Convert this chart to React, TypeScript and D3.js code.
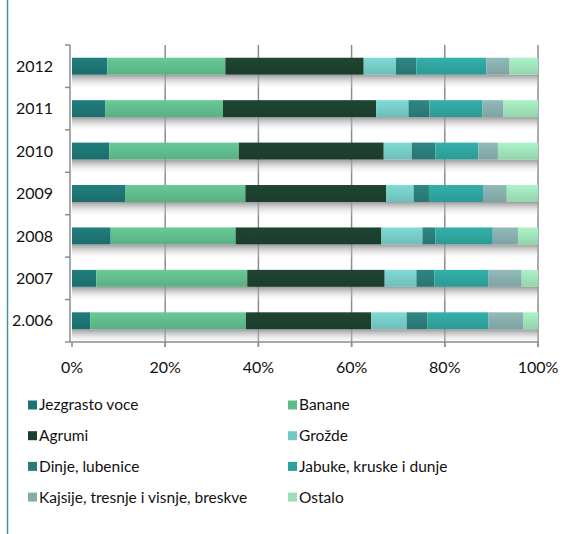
import React, { useEffect, useRef } from "react";
import * as d3 from "d3";

// years, bottom to top as drawn
const years = ["2.006", "2007", "2008", "2009", "2010", "2011", "2012"];

const seriesNames = [
  "Jezgrasto voce",
  "Banane",
  "Agrumi",
  "Grožde",
  "Dinje, lubenice",
  "Jabuke, kruske i dunje",
  "Kajsije, tresnje i visnje, breskve",
  "Ostalo",
];

// shares in %, per year (2006 .. 2012)
const jezgrasto = [3.9, 5.2, 8.3, 11.5, 8.0, 7.1, 7.6];
const banane = [33.4, 32.4, 26.8, 25.7, 27.8, 25.3, 25.3];
const agrumi = [26.9, 29.5, 31.3, 30.2, 31.1, 32.9, 29.7];
const grozde = [7.6, 6.8, 8.8, 5.9, 6.0, 6.9, 6.9];
const dinje = [4.5, 3.9, 2.8, 3.3, 5.1, 4.5, 4.4];
const jabuke = [13.1, 11.6, 12.3, 11.6, 9.2, 11.4, 15.0];
const kajsije = [7.5, 7.1, 5.4, 5.1, 4.2, 4.5, 5.0];
const ostalo = [3.1, 3.5, 4.3, 6.7, 8.6, 7.4, 6.1];

const xTicks = [0, 0.2, 0.4, 0.6, 0.8, 1];

const colors = ["#1d7372", "#5fb98a", "#1d3f2e", "#74c8c3", "#2a7b79", "#2fa19c", "#85abaa", "#9cdfb6"];

export default function App() {
  const ref = useRef<SVGSVGElement>(null);

  useEffect(() => {
    const svg = d3.select(ref.current);
    svg.selectAll("*").remove();

    const width = 570, height = 534;
    const margin = { top: 45, left: 72, right: 32, bottom: 192 };
    const font = "Lato, 'Liberation Sans', Arial, sans-serif";

    const all = [jezgrasto, banane, agrumi, grozde, dinje, jabuke, kajsije, ostalo];
    const table = years.map((y, i) => {
      const row: any = { year: y };
      seriesNames.forEach((s, j) => (row[s] = all[j][i]));
      return row;
    });
    const stacked = d3.stack().keys(seriesNames).offset(d3.stackOffsetExpand)(table);

    const x = d3.scaleLinear().domain([0, 1]).range([margin.left, width - margin.right]);
    const y = d3
      .scaleBand()
      .domain(years.slice().reverse())
      .range([margin.top, height - margin.bottom])
      .paddingInner(0.6)
      .paddingOuter(0.3);
    const step = y.step();

    const defs = svg.append("defs");
    const sh = defs.append("linearGradient").attr("id", "shadow").attr("x1", 0).attr("x2", 0).attr("y1", 0).attr("y2", 1);
    sh.append("stop").attr("offset", "0%").attr("stop-color", "#8a8a8a").attr("stop-opacity", 0.85);
    sh.append("stop").attr("offset", "100%").attr("stop-color", "#fff").attr("stop-opacity", 0);

    colors.forEach((c, i) => {
      const g = defs.append("linearGradient").attr("id", "g" + i).attr("x1", 0).attr("x2", 0).attr("y1", 0).attr("y2", 1);
      g.append("stop").attr("offset", "0%").attr("stop-color", d3.color(c)!.brighter(0.25).toString());
      g.append("stop").attr("offset", "100%").attr("stop-color", d3.color(c)!.darker(0.15).toString());
    });

    // frame edge on the left
    svg.append("line").attr("x1", 7.5).attr("x2", 7.5).attr("y1", 0).attr("y2", height)
      .attr("stroke", "#3a9a96").attr("stroke-width", 1.5);

    // grid
    svg.append("g").selectAll("line").data(xTicks.slice(1)).join("line")
      .attr("x1", d => x(d)).attr("x2", d => x(d))
      .attr("y1", margin.top).attr("y2", height - margin.bottom + 5)
      .attr("stroke", "#8c8c8c").attr("stroke-width", 1.5);

    // shadows
    svg.append("g").selectAll("rect").data(years).join("rect")
      .attr("x", x(0)).attr("width", x(1) - x(0))
      .attr("y", d => y(d)! + y.bandwidth())
      .attr("height", 15)
      .attr("fill", "url(#shadow)");

    // bars
    svg.append("g").selectAll("g").data(stacked).join("g")
      .attr("fill", (_d, i) => "url(#g" + i + ")")
      .selectAll("rect").data(d => d).join("rect")
      .attr("x", d => x(d[0]))
      .attr("width", d => x(d[1]) - x(d[0]))
      .attr("y", d => y((d.data as any).year)!)
      .attr("height", y.bandwidth());

    // axes
    const ax = svg.append("g").attr("stroke", "#8c8c8c").attr("stroke-width", 1.5);
    ax.append("line").attr("x1", x(0) - 2).attr("x2", x(0) - 2)
      .attr("y1", margin.top).attr("y2", height - margin.bottom);
    const yTicks = d3.range(years.length + 1).map(i => margin.top + i * step);
    ax.selectAll(".yt").data(yTicks).join("line").attr("class", "yt")
      .attr("x1", x(0) - 7).attr("x2", x(0) - 2).attr("y1", d => d).attr("y2", d => d);
    ax.append("line").attr("x1", x(0) - 2).attr("x2", x(1))
      .attr("y1", height - margin.bottom).attr("y2", height - margin.bottom);
    ax.selectAll(".xt").data(xTicks).join("line").attr("class", "xt")
      .attr("x1", d => x(d)).attr("x2", d => x(d))
      .attr("y1", height - margin.bottom).attr("y2", height - margin.bottom + 5);

    svg.append("g").selectAll("text").data(years).join("text")
      .attr("x", 53).attr("y", d => y(d)! + y.bandwidth() / 2)
      .attr("dy", "0.35em").attr("text-anchor", "end")
      .attr("font-family", font).attr("font-size", 16).attr("fill", "#111")
      .text(d => d);

    svg.append("g").selectAll("text").data(xTicks).join("text")
      .attr("x", d => x(d)).attr("y", height - margin.bottom + 25)
      .attr("dy", "0.35em").attr("text-anchor", "middle")
      .attr("font-family", font).attr("font-size", 16).attr("fill", "#111")
      .text(d => d3.format(".0%")(d));

    // legend
    const lg = svg.append("g").selectAll("g").data(seriesNames).join("g")
      .attr("transform", (_d, i) => `translate(${i % 2 === 0 ? 28 : 288},${405 + Math.floor(i / 2) * 30.7})`);
    lg.append("rect").attr("x", 0).attr("y", -4.5).attr("width", 9).attr("height", 9)
      .attr("fill", (_d, i) => colors[i]);
    lg.append("text").attr("x", 11).attr("dy", "0.35em")
      .attr("font-family", font).attr("font-size", 15.5).attr("fill", "#111")
      .text(d => d);
  }, []);

  return <svg ref={ref} width={570} height={534} style={{ display: "block", position: "absolute", left: 0, top: 0 }} />;
}
